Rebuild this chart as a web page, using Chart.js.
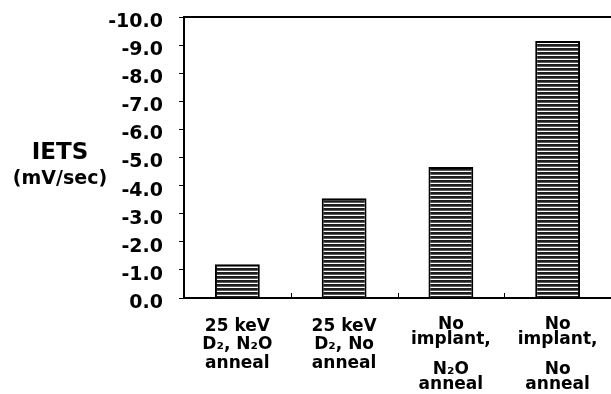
<!DOCTYPE html>
<html>
<head>
<meta charset="utf-8">
<script src="https://cdn.jsdelivr.net/npm/chart.js@4.4.0/dist/chart.umd.min.js"></script>
<style>
  html, body { margin: 0; padding: 0; background: #ffffff; }
  #wrap { width: 611px; height: 394px; position: relative; }
</style>
</head>
<body>
<div id="wrap"><canvas id="c" width="611" height="394"></canvas></div>
<script>
// ---- data ----
const categories = [
  ["25 keV", "D₂, N₂O", "anneal"],
  ["25 keV", "D₂, No", "anneal"],
  ["No", "implant,", "", "N₂O", "anneal"],
  ["No", "implant,", "", "No", "anneal"]
];
const ietsValues = [-1.2, -3.55, -4.66, -9.15];
const yMin = -10;
const yMax = 0;
const yStep = 1;
const yTitleLines = ["IETS", "(mV/sec)"];

// ---- hatch pattern (horizontal stripes) ----
function makePattern() {
  const p = document.createElement('canvas');
  p.width = 8; p.height = 4;
  const g = p.getContext('2d');
  g.fillStyle = '#ffffff'; g.fillRect(0, 0, 8, 4);
  g.fillStyle = '#1e1e1e'; g.fillRect(0, 0, 8, 2);
  g.fillStyle = '#5a5a5a'; g.fillRect(0, 2, 8, 1);
  return document.getElementById('c').getContext('2d').createPattern(p, 'repeat');
}

const decor = {
  id: 'decor',
  afterDraw(chart) {
    const { ctx, chartArea, scales } = chart;
    ctx.save();
    // top border
    ctx.strokeStyle = '#000';
    ctx.lineWidth = 2;
    ctx.beginPath();
    ctx.moveTo(chartArea.left, chartArea.top);
    ctx.lineTo(chartArea.right, chartArea.top);
    ctx.stroke();
    // small inner tick marks between categories on x axis
    ctx.lineWidth = 1;
    const xs = scales.x;
    for (let i = 0; i < categories.length - 1; i++) {
      const px = (xs.getPixelForValue(i) + xs.getPixelForValue(i + 1)) / 2;
      ctx.beginPath();
      ctx.moveTo(Math.round(px) + 0.5, chartArea.bottom);
      ctx.lineTo(Math.round(px) + 0.5, chartArea.bottom - 5);
      ctx.stroke();
    }
    // y axis title (horizontal)
    ctx.fillStyle = '#000';
    ctx.textAlign = 'center';
    ctx.textBaseline = 'middle';
    ctx.font = 'bold 23px "DejaVu Sans"';
    ctx.fillText(yTitleLines[0], 60, 153);
    ctx.font = 'bold 19px "DejaVu Sans"';
    ctx.fillText(yTitleLines[1], 60, 179);
    ctx.restore();
  }
};

new Chart(document.getElementById('c'), {
  type: 'bar',
  data: {
    labels: categories,
    datasets: [{
      data: ietsValues,
      backgroundColor: makePattern(),
      borderColor: '#000',
      borderWidth: 2,
      barPercentage: 0.42,
      categoryPercentage: 1.0
    }]
  },
  options: {
    responsive: false,
    animation: false,
    devicePixelRatio: 1,
    layout: { padding: { top: 17, right: 0, left: 0, bottom: 0 } },
    plugins: { legend: { display: false }, tooltip: { enabled: false }, title: { display: false } },
    scales: {
      x: {
        grid: { display: false, drawTicks: false },
        border: { display: true, color: '#000', width: 2 },
        ticks: {
          color: '#000',
          padding: 19,
          maxRotation: 0,
          autoSkip: false,
          font: (ctx) => ({
            family: '"DejaVu Sans"',
            weight: 'bold',
            size: 17,
            lineHeight: (ctx.index >= 2 ? '15px' : '18.5px')
          })
        },
        afterFit: (s) => { s.height = 96; s.paddingLeft = 0; s.paddingRight = 0; }
      },
      y: {
        reverse: true,
        min: yMin,
        max: yMax,
        grid: { display: true, drawOnChartArea: false, drawTicks: true, tickLength: 5, color: '#000', lineWidth: 1 },
        border: { display: true, color: '#000', width: 2 },
        ticks: {
          stepSize: yStep,
          color: '#000',
          padding: 16,
          labelOffset: 5,
          font: { family: '"DejaVu Sans"', weight: 'bold', size: 19 },
          callback: (v) => (Math.abs(v) < 1e-9 ? 0 : v).toFixed(1)
        },
        afterFit: (s) => { s.width = 184; s.paddingTop = 0; s.paddingBottom = 0; }
      }
    }
  },
  plugins: [decor]
});
</script>
</body>
</html>
